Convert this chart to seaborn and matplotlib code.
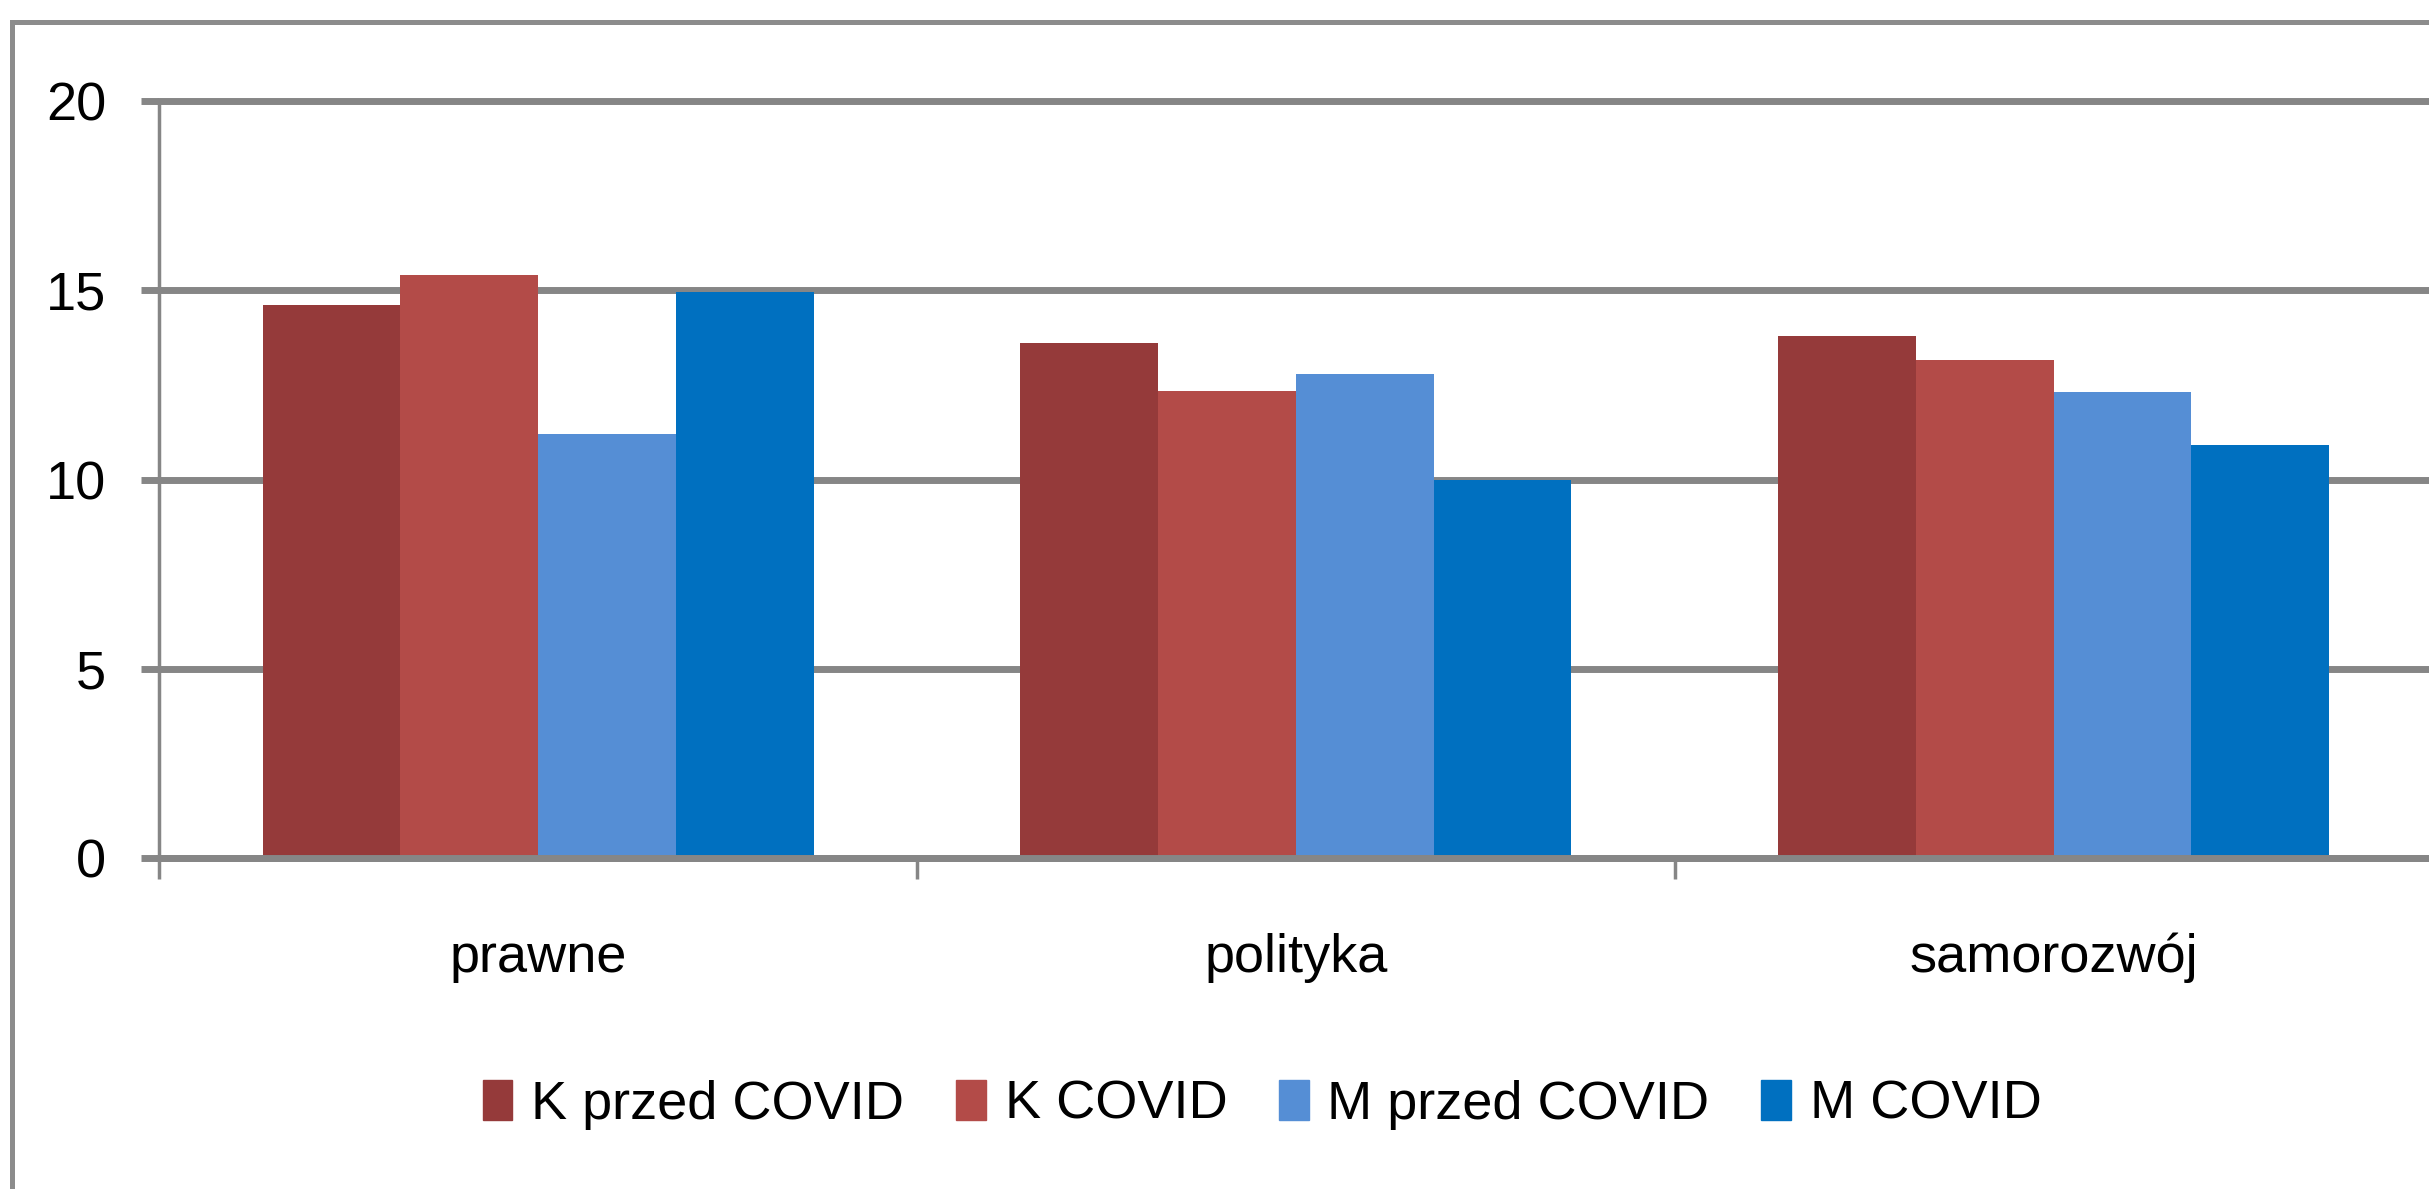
import pandas as pd
import numpy as np
import matplotlib
matplotlib.use('Agg')
import matplotlib.pyplot as plt
import seaborn as sns
from matplotlib.patches import Rectangle
from matplotlib import font_manager

# ---------------------------------------------
# Dane
# ---------------------------------------------
kategorie = ['prawne', 'polityka', 'samorozwój']
serie = ['K przed COVID', 'K COVID', 'M przed COVID', 'M COVID']
k_przed = [14.6, 13.6, 13.8]
k_covid = [15.4, 12.35, 13.15]
m_przed = [11.2, 12.8, 12.3]
m_covid = [14.95, 10.0, 10.9]
kolory = ['#953A3A', '#B34B48', '#558ED5', '#0070C0']
y_ticks = [0, 5, 10, 15, 20]

df = pd.DataFrame({
    'kategoria': np.tile(kategorie, 4),
    'seria': np.repeat(serie, 3),
    'wartosc': k_przed + k_covid + m_przed + m_covid,
})

# ---------------------------------------------
# Czcionka - wąska jeśli dostępna
# ---------------------------------------------
dostepne = {f.name for f in font_manager.fontManager.ttflist}
kandydaci = [('Liberation Sans Narrow', 44), ('DejaVu Sans Condensed', 38),
             ('Liberation Sans', 39), ('DejaVu Sans', 36)]
czcionka, rozmiar = next((n, r) for n, r in kandydaci if n in dostepne)

# ---------------------------------------------
# Wykres
# ---------------------------------------------
sns.set_style('white')
plt.rcParams['font.family'] = [czcionka, 'DejaVu Sans']
plt.rcParams['text.color'] = 'black'
plt.rcParams['xtick.color'] = 'black'
plt.rcParams['ytick.color'] = 'black'

szary = '#868686'
fig = plt.figure(figsize=(24.29, 11.89), dpi=100)
ax = fig.add_axes([0.0655, 0.2784, 0.936, 0.6366])

sns.barplot(data=df, x='kategoria', y='wartosc', hue='seria', order=kategorie,
            hue_order=serie, palette=kolory, saturation=1, width=0.727,
            linewidth=0, edgecolor='none', ax=ax, zorder=3)

ax.set_xlim(-0.5, 2.5)
ax.set_ylim(0, 20)
ax.set_yticks(y_ticks)
ax.set_xlabel('')
ax.set_ylabel('')

# siatka
ax.yaxis.grid(True, color=szary, linewidth=5)
ax.set_axisbelow(True)
for linia in ax.get_ygridlines():
    linia.set_clip_on(False)

for s in ['top', 'right']:
    ax.spines[s].set_visible(False)
ax.spines['left'].set_color(szary)
ax.spines['left'].set_linewidth(2.5)
ax.spines['bottom'].set_color(szary)
ax.spines['bottom'].set_linewidth(5)
ax.spines['bottom'].set_zorder(4)

ax.tick_params(axis='y', which='major', left=True, length=13, width=5,
               color=szary, labelcolor='black', pad=25, labelsize=rozmiar)
ax.tick_params(axis='x', which='major', bottom=False, length=0, pad=54,
               labelcolor='black', labelsize=rozmiar)
ax.set_xticks([-0.5, 0.5, 1.5, 2.5], minor=True)
ax.tick_params(axis='x', which='minor', bottom=True, length=15, width=2.5,
               color=szary)

# legenda
ax.legend_.remove()
uchwyty = [Rectangle((0, 0), 1, 1, color=c) for c in kolory]
fig.legend(uchwyty, serie, loc='center', bbox_to_anchor=(0.5196, 0.071),
           ncol=4, frameon=False, fontsize=rozmiar, handlelength=0.55,
           handleheight=0.75, handletextpad=0.35, columnspacing=0.95)

# ramka wykresu
fig.patches.append(Rectangle((0.005, -0.1), 1.2, 0.9815 + 0.1,
                             transform=fig.transFigure, fill=False,
                             edgecolor='#8C8C8C', linewidth=3.6))

fig.savefig('out.png', dpi=100)
